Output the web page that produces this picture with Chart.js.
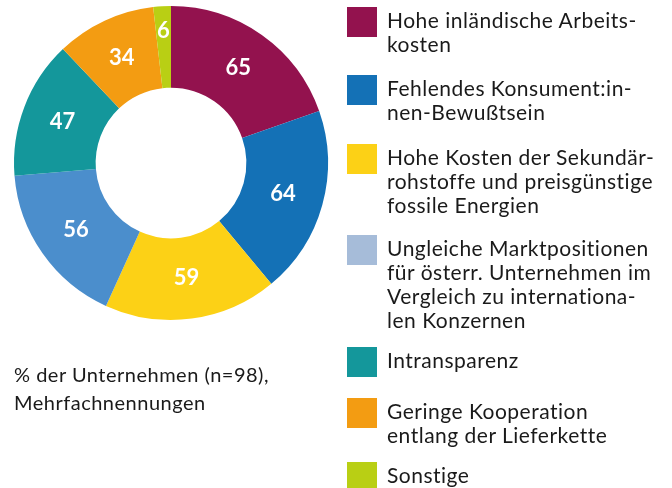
<!DOCTYPE html>
<html>
<head>
<meta charset="utf-8">
<script src="https://cdn.jsdelivr.net/npm/chart.js@4"></script>
<style>
  body { margin: 0; background: #fff; font-family: Lato, "Open Sans", sans-serif; color: #1a1a1a; }
  #wrap { position: relative; width: 672px; height: 488px; overflow: hidden; }
  #chart { position: absolute; left: 0; top: 0; }
  #legend { position: absolute; left: 347px; top: 7px; width: 325px; }
  .item { position: absolute; left: 0; }
  .box { position: absolute; left: 0; top: 0; width: 30px; height: 30px; }
  .txt { position: absolute; left: 40px; top: 1px; font-size: 21px; line-height: 24px; letter-spacing: 0.5px; white-space: nowrap; }
  #note { position: absolute; left: 14px; top: 360px; font-size: 20px; line-height: 28px; letter-spacing: 0.5px; }
</style>
</head>
<body>
<div id="wrap">
  <canvas id="chart" width="672" height="488"></canvas>
  <div id="legend"></div>
  <div id="note">% der Unternehmen (n=98),<br>Mehrfachnennungen</div>
</div>
<script>
// Categories (legend lines as they wrap in the original)
const categories = [
  ['Hohe inländische Arbeits-', 'kosten'],
  ['Fehlendes Konsument:in-', 'nen-Bewußtsein'],
  ['Hohe Kosten der Sekundär-', 'rohstoffe und preisgünstige', 'fossile Energien'],
  ['Ungleiche Marktpositionen', 'für österr. Unternehmen im', 'Vergleich zu internationa-', 'len Konzernen'],
  ['Intransparenz'],
  ['Geringe Kooperation', 'entlang der Lieferkette'],
  ['Sonstige']
];
const values = [65, 64, 59, 56, 47, 34, 6];
const sliceColors = ['#93124e', '#1471b6', '#fcd116', '#4b8ecc', '#14979b', '#f39c12', '#b9cf14'];
const legendColors = ['#93124e', '#1471b6', '#fcd116', '#a6bcd9', '#14979b', '#f39c12', '#b9cf14'];
const legendTops = [0, 68, 137, 228, 340, 391, 455];

// white numbers inside the slices
const sliceLabels = {
  id: 'sliceLabels',
  afterDatasetsDraw(chart) {
    const ctx = chart.ctx;
    const meta = chart.getDatasetMeta(0);
    ctx.save();
    ctx.fillStyle = '#fff';
    ctx.font = 'bold 22px Lato, sans-serif';
    ctx.textAlign = 'center';
    ctx.textBaseline = 'middle';
    meta.data.forEach((arc, i) => {
      const p = arc.getProps(['x', 'y', 'startAngle', 'endAngle', 'innerRadius', 'outerRadius']);
      const mid = (p.startAngle + p.endAngle) / 2;
      let r = (p.innerRadius + p.outerRadius) / 2;
      if (p.endAngle - p.startAngle < 0.2) r = p.outerRadius - 25; // narrow slice: push out
      ctx.fillText(values[i], p.x + Math.cos(mid) * r, p.y + Math.sin(mid) * r);
    });
    ctx.restore();
  }
};

const chart = new Chart(document.getElementById('chart'), {
  type: 'doughnut',
  data: {
    labels: categories.map(c => c.join(' ')),
    datasets: [{
      data: values,
      backgroundColor: sliceColors,
      borderWidth: 0
    }]
  },
  options: {
    responsive: false,
    animation: false,
    cutout: '48%',
    layout: { padding: { left: 14, top: 6, right: 344, bottom: 168 } },
    plugins: {
      legend: { display: false },
      tooltip: { enabled: false }
    }
  },
  plugins: [sliceLabels]
});

// HTML legend built from the chart data
const legend = document.getElementById('legend');
categories.forEach((lines, i) => {
  const item = document.createElement('div');
  item.className = 'item';
  item.style.top = legendTops[i] + 'px';
  const box = document.createElement('div');
  box.className = 'box';
  box.style.background = legendColors[i];
  const txt = document.createElement('div');
  txt.className = 'txt';
  txt.innerHTML = lines.join('<br>');
  item.appendChild(box);
  item.appendChild(txt);
  legend.appendChild(item);
});
</script>
</body>
</html>
